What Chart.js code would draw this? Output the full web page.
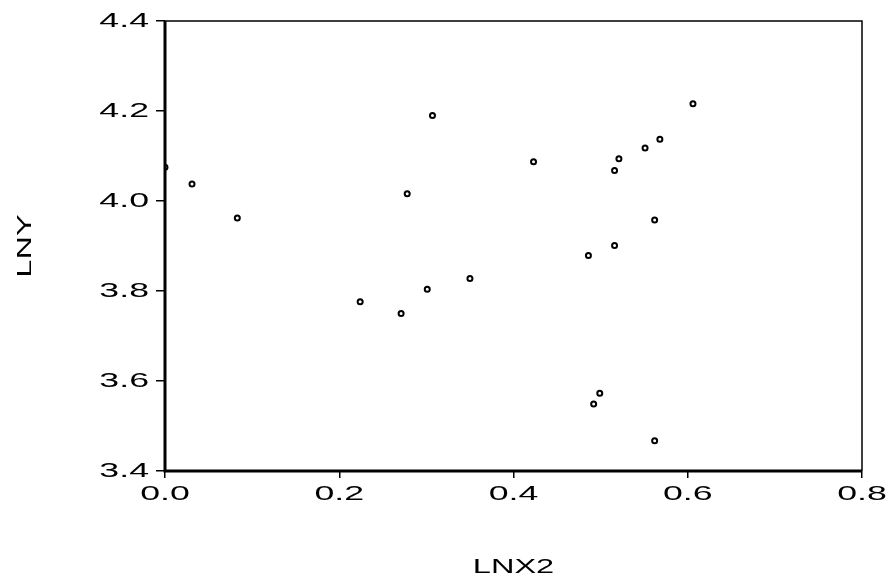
<!DOCTYPE html>
<html>
<head>
<meta charset="utf-8">
<script src="https://cdn.jsdelivr.net/npm/chart.js@4"></script>
<style>
html,body{margin:0;padding:0;background:#fff;}
#wrap{width:896px;height:586px;}
</style>
</head>
<body>
<div id="wrap"><canvas id="chart" width="896" height="586"></canvas></div>
<script>
// values
const lnx2=[0.000,0.031,0.083,0.224,0.271,0.278,0.301,0.307,0.350,0.423,0.486,0.492,0.499,0.516,0.516,0.521,0.551,0.562,0.562,0.568,0.606];
const lny =[4.075,4.038,3.962,3.776,3.750,4.016,3.804,4.190,3.828,4.087,3.879,3.549,3.573,3.901,4.068,4.094,4.118,3.958,3.467,4.137,4.216];
const xTicks=[0.0,0.2,0.4,0.6,0.8];
const yTicks=[3.4,3.6,3.8,4.0,4.2,4.4];
const xTitle='LNX2', yTitle='LNY';

const pts=lnx2.map((x,i)=>({x,y:lny[i]}));
const FONT='"Liberation Sans", Arial, sans-serif';

// stretched labels + frame, drawn on top like the old stat-package plot
const frame={id:'frame',afterDraw(c){
  const g=c.ctx,a=c.chartArea,xs=c.scales.x,ys=c.scales.y;
  g.save();
  g.strokeStyle='#000';
  g.lineWidth=1.5;g.beginPath();g.moveTo(a.left,a.top);g.lineTo(a.right,a.top);g.lineTo(a.right,a.bottom);g.stroke();
  g.lineWidth=3;g.beginPath();g.moveTo(a.left,a.top);g.lineTo(a.left,a.bottom);g.lineTo(a.right,a.bottom);g.stroke();
  g.fillStyle='#000';g.font='21px '+FONT;g.textBaseline='middle';
  yTicks.forEach(v=>{const py=ys.getPixelForValue(v);
    g.save();g.translate(a.left-16,py);g.scale(1.7,1);g.textAlign='right';g.fillText(v.toFixed(1),0,0);g.restore();});
  xTicks.forEach(v=>{const px=xs.getPixelForValue(v);
    g.save();g.translate(px,a.bottom+23);g.scale(1.7,1);g.textAlign='center';g.fillText(v.toFixed(1),0,0);g.restore();});
  g.font='21px '+FONT;
  g.save();g.translate((a.left+a.right)/2,567);g.scale(1.55,1);g.textAlign='center';g.fillText(xTitle,0,0);g.restore();
  g.save();g.translate(25,(a.top+a.bottom)/2);g.rotate(-Math.PI/2);g.scale(1.55,1);g.textAlign='center';g.fillText(yTitle,0,0);g.restore();
  g.restore();
}};

new Chart(document.getElementById('chart').getContext('2d'),{
  type:'scatter',
  data:{datasets:[{data:pts,pointStyle:'circle',pointRadius:2.5,pointBorderWidth:2,
    pointBorderColor:'#000',pointBackgroundColor:'#fff'}]},
  options:{responsive:false,animation:false,
    layout:{padding:{top:21,right:34,left:0,bottom:0}},
    plugins:{legend:{display:false},tooltip:{enabled:false}},
    scales:{
      x:{type:'linear',min:0,max:0.8,
        afterBuildTicks:s=>{s.ticks=xTicks.map(v=>({value:v}));},
        afterFit:s=>{s.height=115;},
        border:{display:false},
        grid:{drawOnChartArea:false,drawTicks:true,tickLength:7,color:'#000',lineWidth:1.5},
        ticks:{display:false}},
      y:{type:'linear',min:3.4,max:4.4,
        afterBuildTicks:s=>{s.ticks=yTicks.map(v=>({value:v}));},
        afterFit:s=>{s.width=165;},
        border:{display:false},
        grid:{drawOnChartArea:false,drawTicks:true,tickLength:9,color:'#000',lineWidth:1.5},
        ticks:{display:false}}
    }},
  plugins:[frame]
});
</script>
</body>
</html>
